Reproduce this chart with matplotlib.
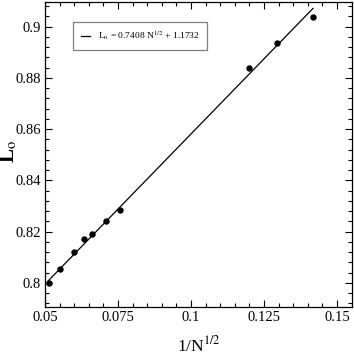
import numpy as np
import matplotlib
matplotlib.use("Agg")
import matplotlib.pyplot as plt

plt.rcParams['font.family'] = ['Liberation Serif', 'DejaVu Serif']
plt.rcParams['mathtext.fontset'] = 'stix'

x_data = [0.0513, 0.0551, 0.0598, 0.0634, 0.0662, 0.0708, 0.0756, 0.1198, 0.1295, 0.1418]
y_data = [0.7999, 0.8053, 0.8120, 0.8170, 0.8192, 0.8240, 0.8286, 0.8838, 0.8938, 0.9036]
fit_intercept = 0.7408
fit_slope = 1.1732
fit_range = [0.0508, 0.1418]
legend_label = r"L$_\mathrm{o}$ = 0.7408 N$^{1/2}$ + 1.1732"
x_ticks = [0.05, 0.075, 0.1, 0.125, 0.15]
x_ticklabels = ["0.05", "0.075", "0.1", "0.125", "0.15"]
y_ticks = [0.8, 0.82, 0.84, 0.86, 0.88, 0.9]
y_ticklabels = ["0.8", "0.82", "0.84", "0.86", "0.88", "0.9"]

fig = plt.figure(figsize=(3.54, 3.54), dpi=100)
ax = fig.add_axes([0.127, 0.133, 0.867, 0.861])

xf = np.array(fit_range)
ax.plot(xf, fit_intercept + fit_slope * xf, color='black', lw=0.9, label=legend_label)
ax.plot(x_data, y_data, 'o', color='black', markersize=3.6, linestyle='none')

ax.set_xlim(0.05, 0.1551)
ax.set_ylim(0.7906, 0.9096)
ax.set_xticks(x_ticks)
ax.set_xticklabels(x_ticklabels)
ax.set_yticks(y_ticks)
ax.set_yticklabels(y_ticklabels)
ax.set_xticks(np.arange(0.05, 0.1551, 0.005), minor=True)
ax.set_yticks(np.arange(0.792, 0.9096, 0.004), minor=True)
ax.tick_params(which='both', direction='in', top=True, right=True, labelsize=10.5, width=0.8)
ax.tick_params(which='major', length=5, pad=3)
ax.tick_params(which='minor', length=3)
for s in ax.spines.values():
    s.set_linewidth(0.9)

ax.set_xlabel(r"1/N$^{1/2}$", fontsize=12.5)
ax.xaxis.set_label_coords(0.5, -0.093)
ax.set_ylabel(r"L$_\mathrm{o}$", fontsize=15, fontweight='bold')
ax.yaxis.set_label_coords(-0.082, 0.51)

leg = ax.legend(loc='upper left', bbox_to_anchor=(0.092, 0.935), borderaxespad=0,
                fontsize=6.8, handlelength=1.0, handletextpad=0.8, frameon=True,
                fancybox=False, edgecolor='gray', framealpha=1, borderpad=0.8)
leg.get_frame().set_linewidth(0.9)

fig.savefig("out.png", dpi=100)
